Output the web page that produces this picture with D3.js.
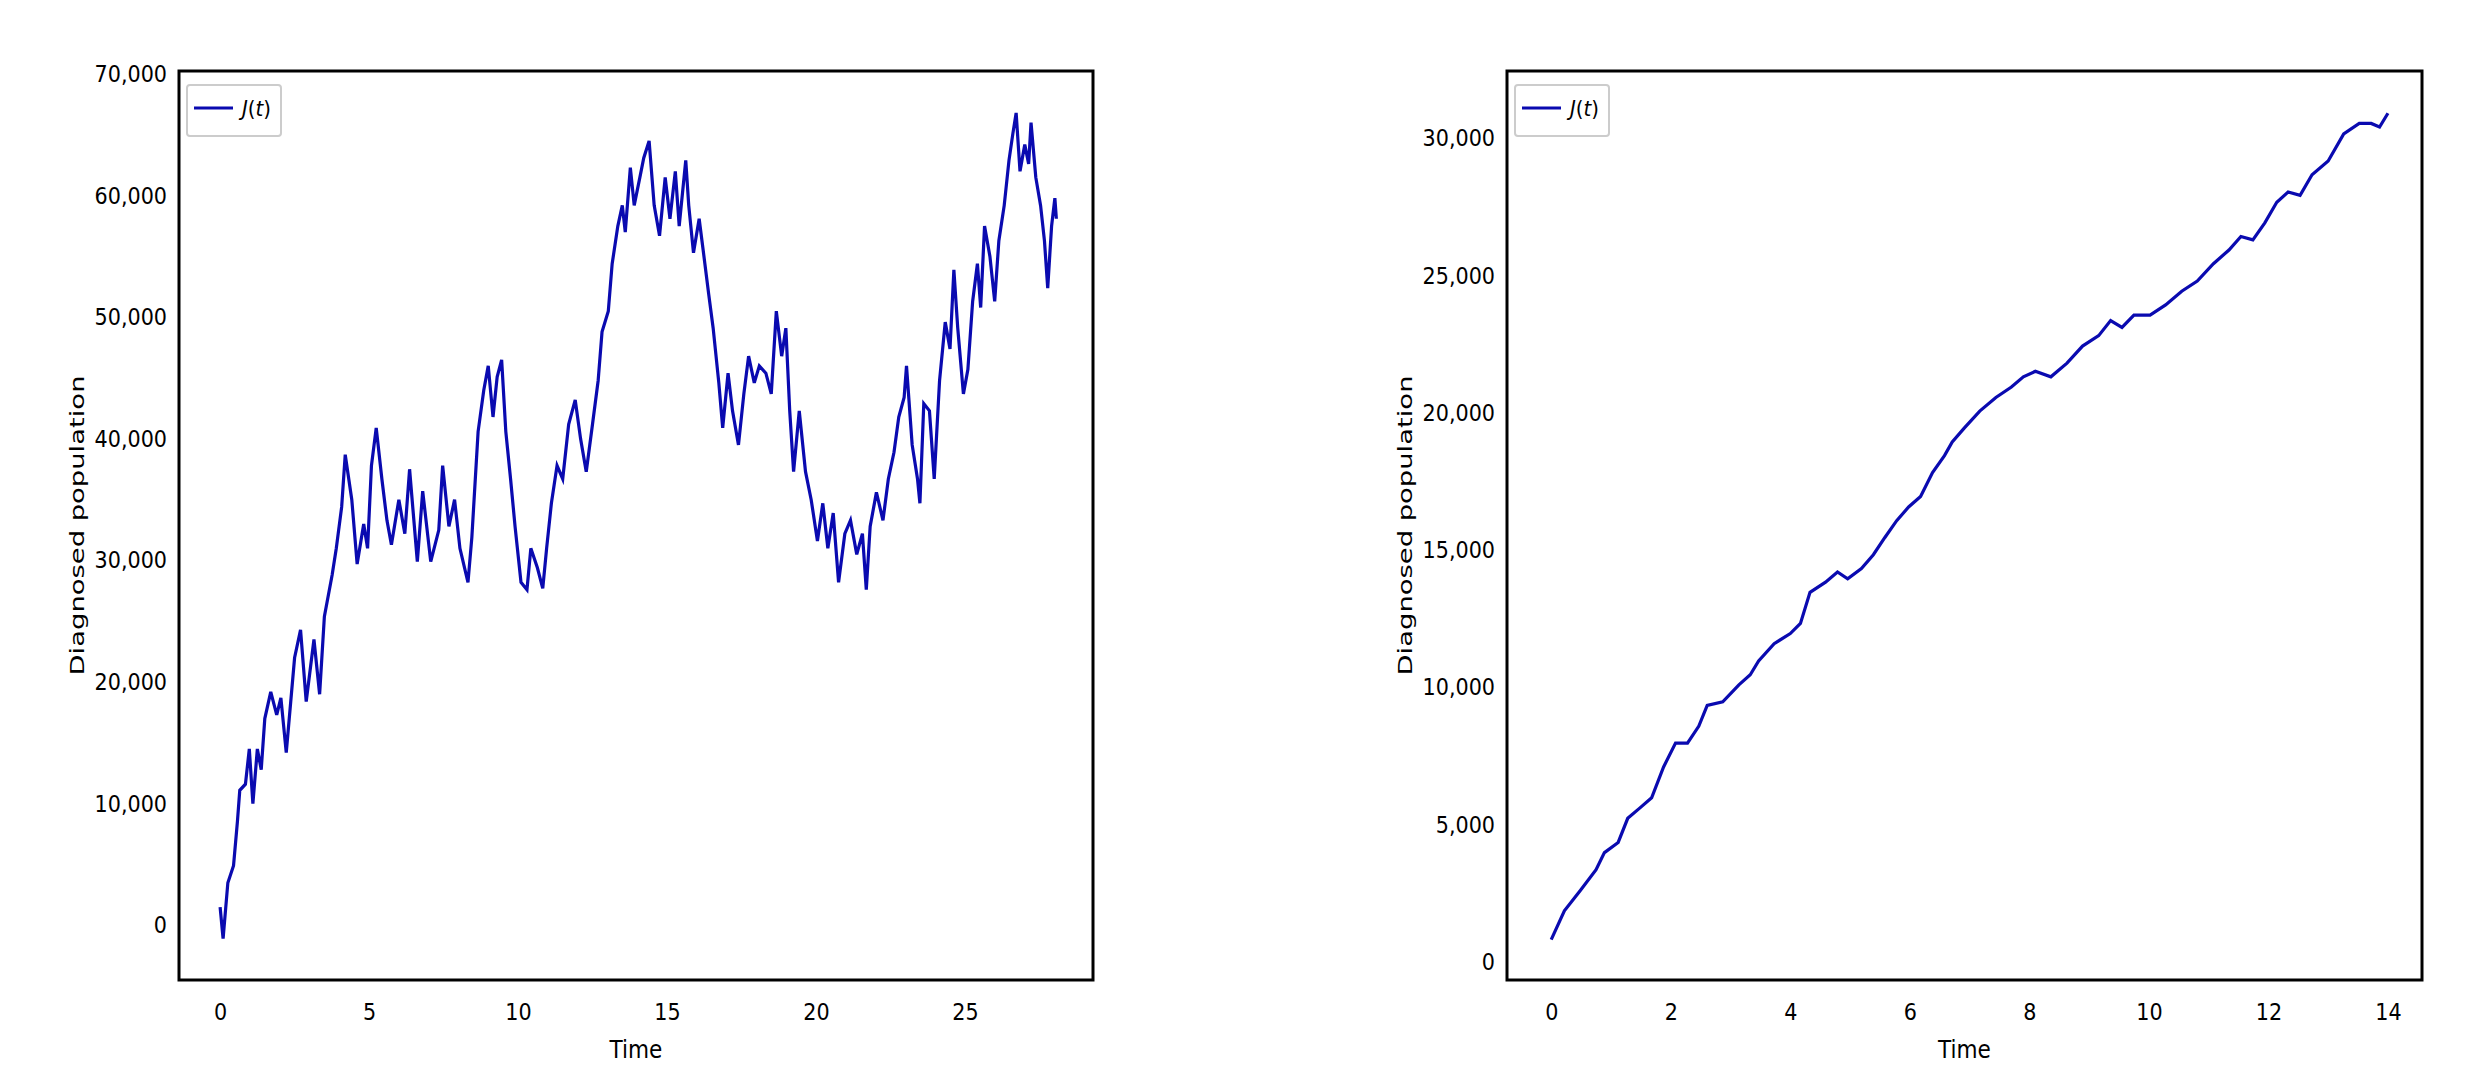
<!DOCTYPE html>
<html>
<head>
<meta charset="utf-8">
<script src="https://cdn.jsdelivr.net/npm/d3@7"></script>
<style>
  html, body { margin: 0; background: #fff; }
  .tick text, .xlab { font-family: "DejaVu Sans Condensed", "Liberation Sans Narrow", sans-serif; font-stretch: condensed; }
</style>
</head>
<body>
<svg id="chart" width="2466" height="1073"></svg>
<script>
// left panel: J(t) stochastic path, time 0..28
const leftT = [0,0.1,0.26,0.45,0.58,0.66,0.85,0.98,1.1,1.25,1.38,1.5,1.7,1.9,2.04,2.22,2.5,2.7,2.89,3.15,3.34,3.5,3.76,3.9,4.08,4.2,4.42,4.6,4.82,4.95,5.08,5.24,5.43,5.6,5.75,6.0,6.2,6.36,6.62,6.8,7.07,7.34,7.47,7.68,7.87,8.05,8.32,8.45,8.66,8.85,9.0,9.16,9.3,9.45,9.59,9.75,9.9,10.1,10.3,10.43,10.65,10.83,10.96,11.12,11.31,11.5,11.7,11.92,12.1,12.29,12.5,12.69,12.82,13.03,13.16,13.35,13.5,13.6,13.77,13.9,14.09,14.22,14.4,14.57,14.75,14.94,15.1,15.28,15.41,15.63,15.73,15.89,16.08,16.2,16.4,16.55,16.74,16.87,17.05,17.2,17.4,17.58,17.74,17.93,18.1,18.32,18.5,18.67,18.85,18.99,19.12,19.25,19.44,19.65,19.84,20.05,20.23,20.4,20.58,20.76,20.97,21.16,21.37,21.56,21.69,21.82,22.03,22.25,22.43,22.62,22.78,22.96,23.04,23.23,23.41,23.49,23.62,23.81,23.97,24.15,24.34,24.5,24.63,24.76,24.95,25.1,25.26,25.42,25.53,25.66,25.84,26.0,26.14,26.32,26.48,26.61,26.72,26.85,27.01,27.14,27.22,27.38,27.54,27.67,27.78,27.91,28.02,28.07];
const leftJ = [1500,-1100,3500,4900,8500,11100,11600,14500,10000,14500,12800,17000,19200,17300,18700,14200,22000,24300,18400,23500,19000,25400,28800,31000,34400,38700,35000,29700,33000,31000,37800,40900,36700,33300,31300,35000,32200,37500,29900,35700,29900,32500,37800,32800,35000,31000,28200,31900,40600,44000,46000,41800,45100,46500,40600,36700,32800,28200,27600,31000,29400,27700,31000,34700,37800,36700,41200,43200,40000,37300,41200,44800,48800,50500,54400,57500,59200,57000,62300,59200,61500,63100,64500,59200,56700,61500,58100,62000,57500,62900,59200,55300,58100,55800,51900,49100,44600,40900,45400,42300,39500,43700,46800,44600,46000,45400,43700,50500,46800,49100,42300,37300,42300,37300,35000,31600,34700,31000,33900,28200,32200,33300,30500,32200,27600,32800,35600,33300,36700,38900,41800,43400,46000,39500,36700,34700,42900,42300,36700,44800,49600,47400,53900,49100,43700,45700,51300,54400,50800,57500,55000,51300,56300,59200,62900,65100,66800,62000,64200,62600,66000,61500,59200,56300,52400,57500,59800,58100];

// right panel: J(t), time 0..14
const rightT = [0,0.22,0.49,0.75,0.89,1.12,1.28,1.48,1.68,1.88,2.08,2.28,2.47,2.61,2.87,3.14,3.33,3.47,3.73,4.0,4.17,4.33,4.59,4.79,4.96,5.19,5.39,5.58,5.78,5.98,6.18,6.38,6.58,6.71,6.91,7.17,7.44,7.7,7.9,8.1,8.36,8.63,8.89,9.16,9.36,9.55,9.75,10.02,10.28,10.55,10.81,11.08,11.34,11.54,11.74,11.94,12.14,12.33,12.53,12.73,13.0,13.26,13.52,13.72,13.86,14.0];
const rightJ = [820,1870,2620,3370,3990,4360,5240,5610,5990,7110,7980,7980,8600,9350,9480,10100,10470,10970,11600,11970,12340,13470,13840,14210,13960,14340,14840,15460,16080,16580,16960,17830,18450,18950,19450,20070,20570,20950,21320,21520,21320,21820,22440,22820,23370,23120,23570,23570,23940,24440,24810,25440,25940,26430,26310,26930,27680,28050,27930,28680,29180,30170,30550,30550,30420,30920];

const leftXTicks = [0,5,10,15,20,25];
const leftYTicks = [0,10000,20000,30000,40000,50000,60000,70000];
const rightXTicks = [0,2,4,6,8,10,12,14];
const rightYTicks = [0,5000,10000,15000,20000,25000,30000];

const svg = d3.select("#chart");
const lineColor = "#0a0ab0";

function panel({left, top, w, h, xDom, yDom, xTicks, yTicks, T, J}) {
  const g = svg.append("g").attr("transform", `translate(${left},${top})`);
  const x = d3.scaleLinear().domain(xDom).range([0, w]);
  const y = d3.scaleLinear().domain(yDom).range([h, 0]);

  const xa = g.append("g").attr("transform", `translate(0,${h})`)
    .call(d3.axisBottom(x).tickValues(xTicks).tickSize(0).tickPadding(24).tickFormat(d3.format("d")));
  const ya = g.append("g")
    .call(d3.axisLeft(y).tickValues(yTicks).tickSize(0).tickPadding(12).tickFormat(d3.format(",")));
  [xa, ya].forEach(a => {
    a.select(".domain").remove();
    a.selectAll("text").attr("font-size", 23).attr("fill", "#000");
  });

  const pts = T.map((t, i) => [t, J[i]]);
  g.append("path")
    .datum(pts)
    .attr("fill", "none")
    .attr("stroke", lineColor)
    .attr("stroke-width", 3.2)
    .attr("stroke-linejoin", "miter")
    .attr("d", d3.line().x(d => x(d[0])).y(d => y(d[1])));

  g.append("rect").attr("width", w).attr("height", h)
    .attr("fill", "none").attr("stroke", "#000").attr("stroke-width", 3);

  // axis labels
  g.append("text").attr("class", "xlab")
    .attr("x", w / 2).attr("y", h + 78)
    .attr("text-anchor", "middle").attr("font-size", 24)
    .text("Time");
  g.append("text")
    .attr("transform", `translate(${-95},${h / 2}) rotate(-90)`)
    .attr("text-anchor", "middle")
    .attr("font-family", "DejaVu Sans, sans-serif")
    .attr("font-size", 19)
    .attr("textLength", 300).attr("lengthAdjust", "spacingAndGlyphs")
    .text("Diagnosed population");

  // legend
  const lg = g.append("g").attr("transform", "translate(8,14)");
  lg.append("rect").attr("width", 94).attr("height", 51).attr("rx", 3)
    .attr("fill", "#fff").attr("stroke", "#ccc").attr("stroke-width", 2);
  lg.append("line").attr("x1", 7).attr("x2", 46).attr("y1", 23).attr("y2", 23)
    .attr("stroke", lineColor).attr("stroke-width", 3);
  const lt = lg.append("text").attr("x", 55).attr("y", 31)
    .attr("font-family", "DejaVu Sans Condensed, sans-serif")
    .attr("font-size", 22).attr("fill", "#000");
  lt.append("tspan").attr("font-style", "italic").text("J");
  lt.append("tspan").text("(");
  lt.append("tspan").attr("font-style", "italic").text("t");
  lt.append("tspan").text(")");
}

panel({left: 179, top: 71, w: 914, h: 909, xDom: [-1.38, 29.3], yDom: [-4500, 70250],
       xTicks: leftXTicks, yTicks: leftYTicks, T: leftT, J: leftJ});
panel({left: 1507, top: 71, w: 915, h: 909, xDom: [-0.74, 14.57], yDom: [-650, 32460],
       xTicks: rightXTicks, yTicks: rightYTicks, T: rightT, J: rightJ});
</script>
</body>
</html>
